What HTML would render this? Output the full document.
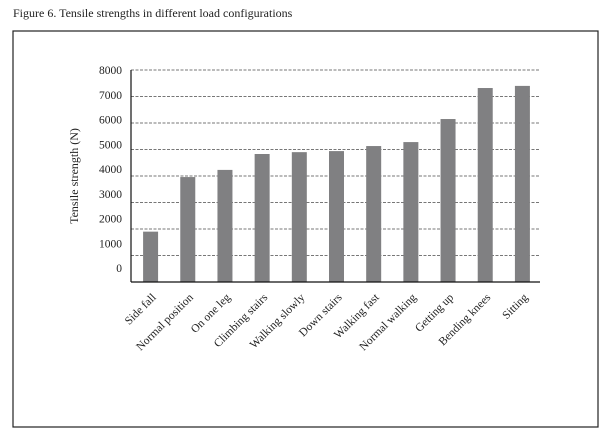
<!DOCTYPE html>
<html><head><meta charset="utf-8"><style>
html,body{margin:0;padding:0;background:#fff;}
body{width:611px;height:433px;overflow:hidden;position:relative;font-family:"Liberation Serif",serif;}
</style></head><body>
<svg width="611" height="433" viewBox="0 0 611 433" style="position:absolute;left:0;top:0">
<text x="13" y="17" font-size="12" fill="#222">Figure 6. Tensile strengths in different load configurations</text>
<rect x="13" y="31" width="585" height="396" fill="none" stroke="#222" stroke-width="1.2"/>
<g id="grid"></g><g id="bars"></g><g id="ylabels"></g><g id="xlabels"></g>
<line x1="131" y1="70" x2="131" y2="282" stroke="#111" stroke-width="1.2"/>
<line x1="131" y1="282" x2="540" y2="282" stroke="#111" stroke-width="1.2"/>
<text transform="translate(78,176) rotate(-90)" text-anchor="middle" font-size="12" fill="#222">Tensile strength (N)</text>
</svg>
<script>
const categories=["Side fall","Normal position","On one leg","Climbing stairs","Walking slowly","Down stairs","Walking fast","Normal walking","Getting up","Bending knees","Sitting"];
const values=[1900,3960,4230,4830,4900,4940,5130,5280,6150,7320,7400];
const yTicks=[0,1000,2000,3000,4000,5000,6000,7000,8000];
const NS="http://www.w3.org/2000/svg";
const x0=131,x1=540,yBase=282,yTop=70,yMax=8000;
const band=(x1-x0)/categories.length;
function y(v){return yBase-(v/yMax)*(yBase-yTop);}
function xc(i){return x0+band*(i+0.5)+1;}
const grid=document.getElementById('grid'),bars=document.getElementById('bars'),yl=document.getElementById('ylabels'),xl=document.getElementById('xlabels');
yTicks.forEach((t,i)=>{
 if(t>0){const l=document.createElementNS(NS,'line');
 l.setAttribute('x1',x0);l.setAttribute('x2',x1);l.setAttribute('y1',y(t));l.setAttribute('y2',y(t));
 l.setAttribute('stroke','#777');l.setAttribute('stroke-dasharray','3,1.5');l.setAttribute('stroke-width','0.9');
 
 
 grid.appendChild(l);}
 const tx=document.createElementNS(NS,'text');
 const ly=70+(8-i)*24.75+4;
 tx.setAttribute('x',122);tx.setAttribute('y',ly);tx.setAttribute('text-anchor','end');tx.setAttribute('font-size','11.5');tx.setAttribute('fill','#222');
 tx.textContent=t;
 
 
 yl.appendChild(tx);
});
categories.forEach((c,i)=>{
 const r=document.createElementNS(NS,'rect');
 const w=15;
 r.setAttribute('x',xc(i)-w/2);r.setAttribute('y',y(values[i]));r.setAttribute('width',w);r.setAttribute('height',yBase-y(values[i]));
 r.setAttribute('fill','#808082');
 
 
 bars.appendChild(r);
 const t=document.createElementNS(NS,'text');
 t.setAttribute('transform','translate('+(xc(i)+6)+',298) rotate(-45)');
 t.setAttribute('text-anchor','end');t.setAttribute('font-size','11.5');t.setAttribute('fill','#222');
 t.textContent=c;
 
 
 xl.appendChild(t);
});
</script>
</body></html>
